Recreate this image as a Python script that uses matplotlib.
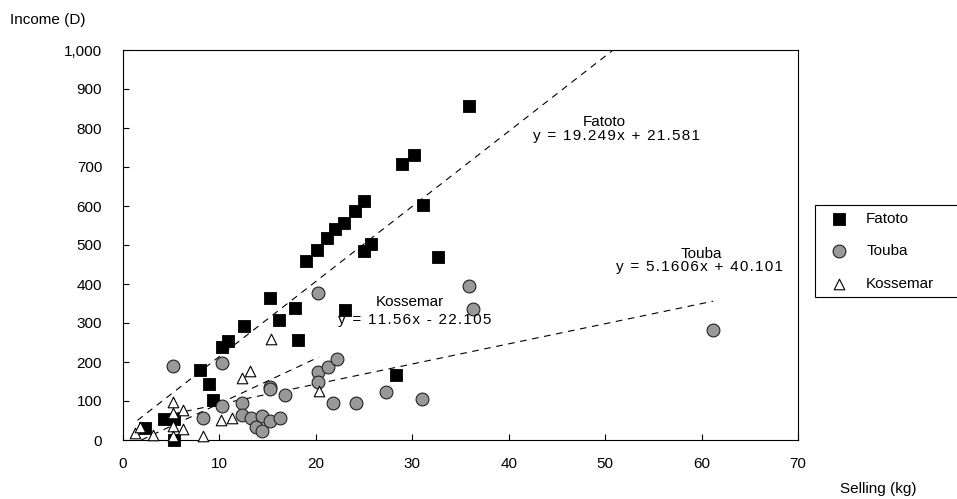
import numpy as np
import matplotlib
matplotlib.use("Agg")
import matplotlib.pyplot as plt
from matplotlib.ticker import FuncFormatter

plt.rcParams["font.family"] = ["Liberation Sans", "DejaVu Sans"]
plt.rcParams["font.size"] = 11

# --------------------------------------------------
# dados
# --------------------------------------------------
fatoto_x = [2.3, 4.3, 5.3, 5.3, 8.0, 8.9, 9.3, 10.3, 10.9, 12.5, 15.2, 16.2, 17.8, 18.1, 19.0,
            20.1, 21.2, 22.0, 22.9, 23.0, 24.1, 25.0, 25.0, 25.7, 28.3, 28.9, 30.2, 31.1, 32.7, 35.9]
fatoto_y = [32, 55, 55, 0, 180, 143, 103, 238, 255, 292, 363, 308, 338, 257, 460,
            488, 518, 540, 557, 333, 588, 613, 485, 503, 167, 708, 730, 603, 470, 857]

touba_x = [5.2, 8.3, 10.3, 10.3, 12.3, 12.3, 13.3, 13.8, 14.4, 14.4, 15.2, 15.2, 15.2, 16.3,
           16.8, 20.2, 20.2, 20.2, 21.3, 21.8, 22.2, 24.2, 27.3, 31.0, 35.9, 36.3, 61.2]
touba_y = [190, 56, 198, 87, 96, 64, 56, 34, 62, 24, 49, 137, 130, 56,
           115, 378, 175, 150, 186, 96, 207, 94, 123, 105, 395, 337, 282]

koss_x = [1.2, 1.8, 3.1, 5.2, 5.2, 5.2, 5.2, 6.2, 6.2, 8.3, 10.2, 11.3, 12.3, 13.2, 15.3, 20.3]
koss_y = [17, 33, 13, 98, 69, 36, 10, 78, 27, 10, 51, 57, 158, 178, 258, 126]

# tendencias (a, b)
trend_fatoto = (19.249, 21.581)
trend_touba = (5.1606, 40.101)
trend_koss = (11.56, -22.105)

x_ticks = [0, 10, 20, 30, 40, 50, 60, 70]
y_ticks = [0, 100, 200, 300, 400, 500, 600, 700, 800, 900, 1000]


def espacar(s):
    # rotulo de equacao do Excel tem espacamento entre letras
    return "\u200a".join(s)


fig = plt.figure(figsize=(9.57, 4.99), dpi=100)
ax = fig.add_axes([123 / 957, 59 / 499, 675 / 957, 390 / 499])

ax.scatter(fatoto_x, fatoto_y, marker="s", s=72, c="black", edgecolors="black",
           linewidths=0.6, label="Fatoto", zorder=3, clip_on=False)
ax.scatter(touba_x, touba_y, marker="o", s=85, c="#999999", edgecolors="#222222",
           linewidths=0.8, label="Touba", zorder=3, clip_on=False)
ax.scatter(koss_x, koss_y, marker="^", s=58, c="white", edgecolors="black",
           linewidths=0.8, label="Kossemar", zorder=4, clip_on=False)

# linhas de tendencia
for (a, b), (x0, x1) in [(trend_fatoto, (1.5, 52)), (trend_touba, (5.2, 61.2)),
                         (trend_koss, (1.9, 20.3))]:
    xs = np.array([x0, x1])
    ax.plot(xs, a * xs + b, color="black", lw=0.8, dashes=(6, 5), zorder=2)

ax.set_xlim(0, 70)
ax.set_ylim(0, 1000)
ax.set_xticks(x_ticks)
ax.set_yticks(y_ticks)
ax.yaxis.set_major_formatter(FuncFormatter(lambda v, p: f"{v:,.0f}"))
ax.tick_params(axis="both", direction="in", length=4, width=0.8, labelsize=11)
ax.tick_params(axis="y", pad=15)
ax.tick_params(axis="x", pad=12)
for sp in ax.spines.values():
    sp.set_linewidth(0.8)
    sp.set_color("black")

# rotulos das equacoes
ax.text(49.9, 815, "Fatoto", ha="center", va="center")
ax.text(51.2, 779, espacar("y = 19.249x + 21.581"), ha="center", va="center")
ax.text(29.7, 354, "Kossemar", ha="center", va="center")
ax.text(30.3, 308, espacar("y = 11.56x - 22.105"), ha="center", va="center")
ax.text(60.0, 477, "Touba", ha="center", va="center")
ax.text(59.8, 444, espacar("y = 5.1606x + 40.101"), ha="center", va="center")

fig.text(10 / 957, 1 - 20 / 499, "Income (D)", ha="left", va="center")
fig.text(916 / 957, 1 - 489 / 499, "Selling (kg)", ha="right", va="center")

leg = fig.legend(loc="upper left",
                 bbox_to_anchor=(815 / 957, 1 - 311 / 499, 150 / 957, 106 / 499),
                 mode="expand", borderaxespad=0,
                 frameon=True, fancybox=False, edgecolor="black", framealpha=1,
                 labelspacing=1.2, handletextpad=0.7, borderpad=0.45, handlelength=2.2)
leg.get_frame().set_linewidth(0.8)

fig.savefig("out.png", dpi=100)
